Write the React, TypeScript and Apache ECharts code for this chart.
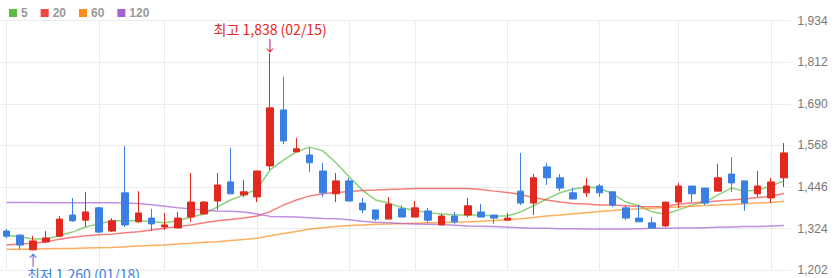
import React, { useEffect, useRef } from 'react';
import * as echarts from 'echarts';

const dates = [
  '01/14', '01/15', '01/18', '01/19', '01/20', '01/21', '01/22', '01/25', '01/26', '01/27',
  '01/28', '01/29', '02/01', '02/02', '02/03', '02/04', '02/05', '02/08', '02/09', '02/10',
  '02/15', '02/16', '02/17', '02/18', '02/19', '02/22', '02/23', '02/24', '02/25', '02/26',
  '03/02', '03/03', '03/04', '03/05', '03/08', '03/09', '03/10', '03/11', '03/12', '03/15',
  '03/16', '03/17', '03/18', '03/19', '03/22', '03/23', '03/24', '03/25', '03/26', '03/29',
  '03/30', '03/31', '04/01', '04/02', '04/05', '04/06', '04/07', '04/08', '04/09', '04/12',
];

const openP = [1317, 1305, 1262, 1285, 1302, 1364, 1349, 1385, 1317, 1429, 1344, 1355, 1329, 1326, 1358, 1367, 1405, 1461, 1423, 1417, 1508, 1672, 1549, 1540, 1493, 1426, 1464, 1399, 1379, 1352, 1382, 1358, 1376, 1335, 1361, 1364, 1373, 1364, 1349, 1434, 1399, 1505, 1473, 1429, 1429, 1449, 1432, 1385, 1355, 1341, 1332, 1402, 1449, 1443, 1434, 1484, 1464, 1426, 1414, 1473];
const closeP = [1302, 1276, 1288, 1297, 1352, 1347, 1373, 1314, 1347, 1335, 1370, 1338, 1335, 1355, 1402, 1402, 1452, 1426, 1432, 1493, 1678, 1581, 1558, 1517, 1429, 1464, 1405, 1379, 1352, 1396, 1358, 1385, 1349, 1361, 1344, 1391, 1358, 1355, 1355, 1399, 1473, 1473, 1443, 1411, 1449, 1429, 1393, 1355, 1344, 1326, 1402, 1449, 1426, 1399, 1473, 1458, 1399, 1449, 1461, 1546];
const lowP = [1296, 1264, 1260, 1283, 1300, 1344, 1329, 1311, 1314, 1329, 1341, 1317, 1320, 1326, 1344, 1367, 1379, 1426, 1417, 1402, 1496, 1572, 1549, 1490, 1417, 1402, 1405, 1370, 1347, 1352, 1358, 1358, 1341, 1335, 1338, 1358, 1358, 1338, 1349, 1393, 1364, 1452, 1434, 1411, 1417, 1417, 1388, 1349, 1344, 1326, 1329, 1385, 1402, 1393, 1434, 1432, 1376, 1417, 1399, 1446];
const highP = [1323, 1308, 1303, 1317, 1361, 1414, 1432, 1388, 1355, 1566, 1434, 1382, 1370, 1373, 1487, 1405, 1487, 1561, 1467, 1493, 1838, 1769, 1590, 1561, 1517, 1487, 1473, 1414, 1379, 1417, 1393, 1405, 1385, 1367, 1373, 1414, 1396, 1364, 1370, 1546, 1484, 1517, 1484, 1443, 1473, 1455, 1432, 1393, 1393, 1358, 1402, 1458, 1449, 1443, 1514, 1534, 1464, 1493, 1473, 1575];

const ma5 = [1305, 1300, 1294, 1294, 1303, 1314, 1329, 1338, 1347, 1347, 1347, 1344, 1341, 1347, 1358, 1367, 1388, 1408, 1423, 1440, 1496, 1525, 1549, 1563, 1552, 1517, 1476, 1437, 1408, 1399, 1385, 1377, 1371, 1367, 1364, 1364, 1364, 1361, 1361, 1373, 1391, 1411, 1429, 1440, 1446, 1443, 1426, 1402, 1391, 1373, 1367, 1379, 1393, 1402, 1423, 1443, 1434, 1437, 1449, 1464];
const ma20 = [1276, 1279, 1281, 1286, 1293, 1299, 1303, 1306, 1308, 1312, 1315, 1320, 1325, 1330, 1335, 1341, 1347, 1351, 1355, 1361, 1374, 1393, 1408, 1420, 1426, 1430, 1433, 1436, 1437, 1439, 1440, 1442, 1442, 1442, 1442, 1442, 1439, 1434, 1430, 1424, 1415, 1408, 1402, 1398, 1396, 1393, 1393, 1391, 1389, 1388, 1389, 1396, 1399, 1402, 1405, 1408, 1411, 1415, 1419, 1427];
const ma60 = [1264, 1264, 1264, 1265, 1266, 1266, 1267, 1268, 1269, 1271, 1273, 1275, 1276, 1279, 1281, 1284, 1286, 1289, 1292, 1296, 1303, 1310, 1316, 1323, 1327, 1330, 1333, 1335, 1337, 1338, 1339, 1340, 1341, 1342, 1343, 1344, 1346, 1348, 1350, 1353, 1357, 1361, 1364, 1368, 1371, 1374, 1377, 1380, 1382, 1384, 1386, 1388, 1390, 1392, 1393, 1395, 1397, 1399, 1401, 1404];
const ma120 = [1401, 1401, 1401, 1400, 1400, 1400, 1400, 1400, 1400, 1399, 1398, 1394, 1390, 1385, 1382, 1379, 1376, 1375, 1373, 1367, 1360, 1359, 1358, 1356, 1354, 1353, 1350, 1346, 1343, 1341, 1339, 1338, 1337, 1336, 1334, 1332, 1331, 1330, 1328, 1327, 1325, 1325, 1324, 1324, 1323, 1323, 1323, 1323, 1324, 1325, 1325, 1326, 1326, 1327, 1328, 1329, 1330, 1330, 1332, 1333];

const gridDates = ['01/14', '01/25', '02/01', '02/10', '02/23', '03/03', '03/12', '03/23', '03/31', '04/09'];

const maNames = ['5', '20', '60', '120'];
const maColors = ['#5cbd41', '#ef4646', '#ff8c1a', '#a45fd6'];

const highDate = '02/15';
const highValue = 1838;
const lowDate = '01/18';
const lowValue = 1260;

const UP = '#e2291f';
const DOWN = '#3a7fe2';
const CJK = '"Noto Sans CJK KR", "Noto Sans", sans-serif';

export default function App() {
  const ref = useRef<HTMLDivElement>(null);
  useEffect(() => {
    const chart = echarts.init(ref.current!, null, { renderer: 'svg' });
    const candleData = dates.map((_, i) => [openP[i], closeP[i], lowP[i], highP[i]]);
    const gridSet = new Set(gridDates);
    const maData = [ma5, ma20, ma60, ma120];
    const fmt = (v: number) => v.toLocaleString('en-US');
    chart.setOption({
      animation: false,
      textStyle: { fontFamily: '"Liberation Sans", Arial, sans-serif' },
      legend: {
        left: 4,
        top: 2,
        itemWidth: 8,
        itemHeight: 8,
        itemGap: 13,
        icon: 'rect',
        selectedMode: false,
        data: maNames,
        textStyle: { color: '#999', fontSize: 12, fontWeight: 'bold', padding: [0, 0, 0, -1] },
      },
      grid: { left: -3.6, right: 45.4, top: 20.5, bottom: 7.7 },
      xAxis: {
        type: 'category',
        data: dates,
        boundaryGap: true,
        axisLine: { show: false },
        axisTick: { show: false },
        axisLabel: { show: false },
        splitLine: {
          show: true,
          alignWithLabel: true,
          interval: (i: number) => gridSet.has(dates[i]),
          lineStyle: { color: '#ececec', width: 1 },
        },
      },
      yAxis: {
        type: 'value',
        position: 'right',
        min: 1202,
        max: 1934,
        interval: 122,
        axisLine: { show: false },
        axisTick: { show: false },
        axisLabel: { color: '#777', fontSize: 12, margin: 7, formatter: fmt },
        splitLine: { lineStyle: { color: '#ececec', width: 1 } },
      },
      series: [
        ...maNames.map((n, k) => ({
          name: n,
          type: 'line',
          data: maData[k],
          symbol: 'none',
          color: maColors[k],
          z: 2,
          lineStyle: { width: 1.5, opacity: 0.7 },
        })),
        {
          type: 'candlestick',
          data: candleData,
          barWidth: 7,
          z: 3,
          itemStyle: {
            color: UP,
            color0: DOWN,
            borderColor: UP,
            borderColor0: DOWN,
            borderWidth: 1,
          },
          markPoint: {
            symbol: 'rect',
            symbolSize: 1,
            itemStyle: { color: 'rgba(0,0,0,0)' },
            data: [
              {
                coord: [highDate, highValue],
                label: {
                  show: true,
                  position: 'top',
                  distance: 2,
                  formatter: `{t|최고 ${fmt(highValue)} (${highDate})}\n{a|↓}`,
                  rich: {
                    t: { color: UP, fontSize: 14, lineHeight: 17, fontFamily: CJK },
                    a: { color: UP, fontSize: 15, lineHeight: 13, fontFamily: CJK },
                  },
                },
              },
              {
                coord: [lowDate, lowValue],
                label: {
                  show: true,
                  position: 'bottom',
                  distance: 2,
                  formatter: '{a|↑}',
                  rich: {
                    a: { color: DOWN, fontSize: 15, lineHeight: 12, fontFamily: CJK },
                  },
                },
              },
              {
                coord: [lowDate, lowValue],
                label: {
                  show: true,
                  position: 'bottom',
                  distance: 16,
                  align: 'left',
                  offset: [-6, 0],
                  formatter: `최저 ${fmt(lowValue)} (${lowDate})`,
                  color: DOWN,
                  fontSize: 14,
                  fontFamily: CJK,
                },
              },
            ],
          },
        },
      ],
    });
    return () => chart.dispose();
  }, []);
  return <div ref={ref} style={{ position: 'absolute', left: 0, top: 0, width: 836, height: 278 }} />;
}
